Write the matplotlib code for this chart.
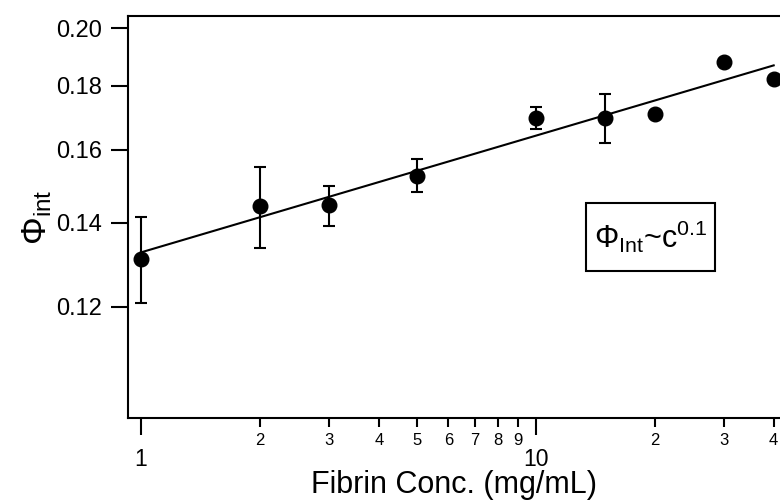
import matplotlib
matplotlib.use("Agg")
import matplotlib.pyplot as plt
import numpy as np
from matplotlib.patches import Rectangle
from matplotlib.ticker import FixedLocator, FixedFormatter, NullLocator

plt.rcParams['font.family'] = ['Liberation Sans', 'DejaVu Sans']
plt.rcParams['mathtext.fontset'] = 'custom'
plt.rcParams['mathtext.rm'] = 'Liberation Sans'
plt.rcParams['mathtext.it'] = 'Liberation Sans'

# data
conc = [1, 2, 3, 5, 10, 15, 20, 30, 40]
phi = [0.1310, 0.1443, 0.1447, 0.1525, 0.1698, 0.1697, 0.1709, 0.1880, 0.1824]
phi_hi = [0.1414, 0.1551, 0.1498, 0.1573, 0.1732, 0.1772, 0.1709, 0.1880, 0.1824]
phi_lo = [0.1208, 0.1336, 0.1392, 0.1481, 0.1663, 0.1620, 0.1709, 0.1880, 0.1824]

fit_amp = 0.1326
fit_exp = 0.093
fit_range = [1, 40]

y_ticks = [0.12, 0.14, 0.16, 0.18, 0.20]
x_major = [1, 10]
x_minor = [2, 3, 4, 5, 6, 7, 8, 9, 20, 30, 40]
x_minor_labels = ['2', '3', '4', '5', '6', '7', '8', '9', '2', '3', '4']

fig = plt.figure(figsize=(7.8, 5.0), dpi=100)
ax = fig.add_axes([0.1641, 0.1634, 0.8359, 0.8052])

phi = np.array(phi)
yerr = [phi - np.array(phi_lo), np.array(phi_hi) - phi]
ax.errorbar(conc, phi, yerr=yerr, fmt='o', color='black', markersize=10.5,
            elinewidth=1.5, capsize=4, capthick=1.5, clip_on=False, zorder=3)

xf = np.logspace(np.log10(fit_range[0]), np.log10(fit_range[1]), 50)
ax.plot(xf, fit_amp * xf ** fit_exp, color='black', lw=1.5)

ax.set_xscale('log')
ax.set_yscale('log')
ax.set_xlim(0.927, 41.5)
ax.set_ylim(0.0978, 0.2047)

ax.xaxis.set_major_locator(FixedLocator(x_major))
ax.xaxis.set_major_formatter(FixedFormatter([str(v) for v in x_major]))
ax.xaxis.set_minor_locator(FixedLocator(x_minor))
ax.xaxis.set_minor_formatter(FixedFormatter(x_minor_labels))
ax.yaxis.set_major_locator(FixedLocator(y_ticks))
ax.yaxis.set_major_formatter(FixedFormatter(['%.2f' % v for v in y_ticks]))
ax.yaxis.set_minor_locator(NullLocator())

ax.tick_params(axis='x', which='major', direction='out', length=12.5, width=1.5,
               pad=9, labelsize=16.5)
ax.tick_params(axis='x', which='minor', direction='out', length=6.5, width=1.5,
               pad=4, labelsize=12)
ax.tick_params(axis='y', which='major', direction='out', length=12.5, width=1.5,
               pad=6, labelsize=17)

ax.spines['right'].set_visible(False)
for s in ['left', 'bottom', 'top']:
    ax.spines[s].set_linewidth(1.5)

ax.set_xlabel('Fibrin Conc. (mg/mL)', fontsize=22, labelpad=-1)
ax.set_ylabel(r'$\Phi_{\mathrm{int}}$', fontsize=25, labelpad=2)

# annotation box
ax.add_patch(Rectangle((0.7025, 0.366), 0.198, 0.169, transform=ax.transAxes,
                       fc='white', ec='black', lw=1.5, zorder=4))
ax.text(0.8014, 0.45, r'$\Phi_{\mathrm{Int}}$~c$^{0.1}$', transform=ax.transAxes,
        fontsize=22, ha='center', va='center', zorder=5)

fig.savefig('out.png', dpi=100)
